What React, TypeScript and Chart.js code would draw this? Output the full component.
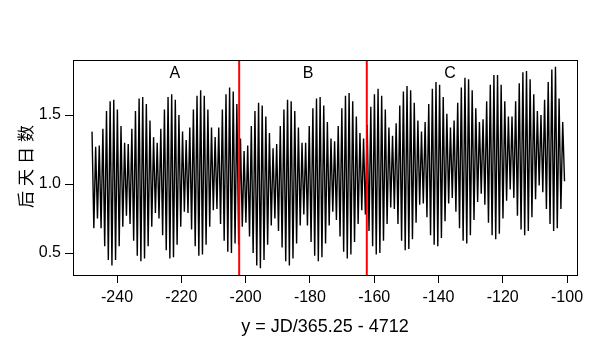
import React, { useEffect, useRef } from "react";
import { Chart, registerables } from "chart.js";

Chart.register(...registerables);

// Time axis: successive extremes (high, low, high, ...) of the oscillation
const START_YEAR = -247.78;
const HALF_CYCLE_YEARS = 0.5632;

// Period A extremes (alternating high / low)
const PERIOD_A = [
  1.38, 0.68, 1.27, 0.75, 1.28, 0.68, 1.40, 0.55, 1.53, 0.45,
  1.60, 0.41, 1.61, 0.45, 1.54, 0.55, 1.42, 0.69, 1.30, 0.77,
  1.29, 0.71, 1.40, 0.59, 1.53, 0.48, 1.62, 0.44, 1.63, 0.46,
  1.58, 0.55, 1.46, 0.69, 1.34, 0.79, 1.30, 0.75, 1.40, 0.63,
  1.54, 0.52, 1.63, 0.46, 1.65, 0.47, 1.61, 0.56, 1.50, 0.69,
  1.38, 0.80, 1.32, 0.79, 1.41, 0.67, 1.54, 0.55, 1.64, 0.48,
  1.68, 0.49, 1.64, 0.56, 1.54, 0.69, 1.41, 0.81, 1.34, 0.82,
  1.41, 0.71, 1.54, 0.59, 1.65, 0.51, 1.70, 0.50, 1.67, 0.57,
  1.58,
];

// Period B extremes
const PERIOD_B = [
  0.56, 1.33, 0.69, 1.24, 0.72, 1.28, 0.62, 1.42, 0.50, 1.53,
  0.41, 1.59, 0.39, 1.57, 0.45, 1.49, 0.56, 1.37, 0.70, 1.26,
  0.75, 1.29, 0.66, 1.42, 0.54, 1.54, 0.44, 1.61, 0.41, 1.60,
  0.46, 1.53, 0.57, 1.41, 0.70, 1.30, 0.78, 1.30, 0.70, 1.42,
  0.58, 1.55, 0.48, 1.62, 0.44, 1.63, 0.47, 1.57, 0.57, 1.45,
  0.70, 1.33, 0.80, 1.31, 0.74, 1.42, 0.62, 1.55, 0.51, 1.64,
  0.46, 1.66, 0.49, 1.60, 0.58, 1.49, 0.71, 1.37, 0.81, 1.33,
  0.78,
];

// Period C extremes
const PERIOD_C = [
  1.43, 0.66, 1.56, 0.55, 1.65, 0.49, 1.69, 0.50, 1.64, 0.59,
  1.54, 0.71, 1.41, 0.83, 1.35, 0.82, 1.44, 0.71, 1.57, 0.59,
  1.67, 0.52, 1.71, 0.53, 1.68, 0.60, 1.59, 0.72, 1.46, 0.85,
  1.38, 0.86, 1.45, 0.76, 1.58, 0.63, 1.69, 0.56, 1.74, 0.55,
  1.72, 0.61, 1.63, 0.73, 1.51, 0.86, 1.41, 0.90, 1.46, 0.80,
  1.59, 0.68, 1.70, 0.59, 1.77, 0.57, 1.76, 0.63, 1.68, 0.74,
  1.55, 0.87, 1.45, 0.93, 1.47, 0.85, 1.60, 0.72, 1.72, 0.63,
  1.79, 0.60, 1.79, 0.64, 1.72, 0.75, 1.60, 0.88, 1.49, 0.96,
  1.49, 0.90, 1.60, 0.77, 1.73, 0.67, 1.81, 0.63, 1.82, 0.66,
  1.76, 0.76, 1.65, 0.89, 1.53, 0.99, 1.50, 0.94, 1.61, 0.82,
  1.74, 0.71, 1.83, 0.66, 1.85, 0.68, 1.62, 0.82, 1.45, 1.02,
];

const BOUNDARY_YEARS = [-202.0, -162.3];
const PERIOD_LABELS = ["A", "B", "C"];
const PERIOD_LABEL_YEARS = [-222.0, -180.6, -136.4];
const PERIOD_LABEL_VALUE = 1.8;

const X_TICKS = [-240, -220, -200, -180, -160, -140, -120, -100];
const Y_TICKS = [0.5, 1.0, 1.5];
const X_MIN = -253.7;
const X_MAX = -96.9;
const Y_MIN = 0.341;
const Y_MAX = 1.899;

const X_TITLE = "y = JD/365.25 - 4712";
const Y_TITLE = "后天日数";

const LATIN = '"Liberation Sans", Arial, sans-serif';
const CJK = '"Noto Sans CJK SC", "Noto Sans CJK JP", sans-serif';

const overlayPlugin = {
  id: "overlay",
  afterDatasetsDraw(chart: any) {
    const { ctx, chartArea: a, scales } = chart;
    const x = scales.x;
    const y = scales.y;
    ctx.save();
    // red boundary lines
    ctx.strokeStyle = "#ff0000";
    ctx.lineWidth = 2;
    BOUNDARY_YEARS.forEach((v) => {
      const px = x.getPixelForValue(v);
      ctx.beginPath();
      ctx.moveTo(px, a.top);
      ctx.lineTo(px, a.bottom);
      ctx.stroke();
    });
    // period labels
    ctx.fillStyle = "#000";
    ctx.font = `16px ${LATIN}`;
    ctx.textAlign = "center";
    ctx.textBaseline = "middle";
    PERIOD_LABELS.forEach((t, i) => {
      ctx.fillText(
        t,
        x.getPixelForValue(PERIOD_LABEL_YEARS[i]),
        y.getPixelForValue(PERIOD_LABEL_VALUE)
      );
    });
    // box
    ctx.strokeStyle = "#000";
    ctx.lineWidth = 1;
    const l = Math.round(a.left) + 0.5;
    const t = Math.round(a.top) + 0.5;
    const r = Math.round(a.right) + 0.5;
    const b = Math.round(a.bottom) + 0.5;
    ctx.strokeRect(l, t, r - l, b - t);
    // y-axis title (rotated, spaced characters)
    ctx.translate(26, (a.top + a.bottom) / 2 - 1);
    ctx.rotate(-Math.PI / 2);
    ctx.font = `17px ${CJK}`;
    (ctx as any).letterSpacing = "5px";
    ctx.textAlign = "center";
    ctx.textBaseline = "middle";
    ctx.fillText(Y_TITLE, 2.5, 0);
    ctx.restore();
  },
};

export default function App() {
  const ref = useRef<HTMLCanvasElement | null>(null);

  useEffect(() => {
    document.body.style.margin = "0";
    const canvas = ref.current;
    if (!canvas) return;
    const values = [...PERIOD_A, ...PERIOD_B, ...PERIOD_C];
    const points = values.map((v, j) => ({
      x: START_YEAR + HALF_CYCLE_YEARS * j,
      y: v,
    }));

    const chart = new Chart(canvas, {
      type: "line",
      data: {
        datasets: [
          {
            data: points,
            borderColor: "#000",
            borderWidth: 1.4,
            pointRadius: 0,
            tension: 0,
            fill: false,
          },
        ],
      },
      options: {
        animation: false,
        responsive: false,
        maintainAspectRatio: false,
        events: [],
        layout: { padding: { top: 60, right: 23, left: 0, bottom: 0 } },
        plugins: {
          legend: { display: false },
          tooltip: { enabled: false },
        },
        scales: {
          x: {
            type: "linear",
            min: X_MIN,
            max: X_MAX,
            afterBuildTicks: (s: any) => {
              s.ticks = X_TICKS.map((value) => ({ value }));
            },
            afterFit: (s: any) => {
              s.height = 75;
            },
            grid: {
              drawOnChartArea: false,
              drawTicks: true,
              tickLength: 8,
              color: "#000",
              tickColor: "#000",
            },
            border: { display: true, color: "#000" },
            ticks: {
              color: "#000",
              font: { family: LATIN, size: 16 },
              padding: 5,
              maxRotation: 0,
              autoSkip: false,
              callback: (v: any) => String(v),
            },
            title: {
              display: true,
              text: X_TITLE,
              color: "#000",
              font: { family: LATIN, size: 18 },
              padding: { top: 0, bottom: 12 },
            },
          },
          y: {
            type: "linear",
            min: Y_MIN,
            max: Y_MAX,
            afterBuildTicks: (s: any) => {
              s.ticks = Y_TICKS.map((value) => ({ value }));
            },
            afterFit: (s: any) => {
              s.width = 73;
            },
            grid: {
              drawOnChartArea: false,
              drawTicks: true,
              tickLength: 8,
              color: "#000",
              tickColor: "#000",
            },
            border: { display: true, color: "#000" },
            ticks: {
              color: "#000",
              font: { family: LATIN, size: 16 },
              padding: 4,
              autoSkip: false,
              callback: (v: any) => Number(v).toFixed(1),
            },
            title: { display: false },
          },
        },
      },
      plugins: [overlayPlugin],
    });

    return () => chart.destroy();
  }, []);

  return (
    <div style={{ width: 600, height: 350 }}>
      <canvas ref={ref} width={600} height={350} style={{ display: "block" }} />
    </div>
  );
}
